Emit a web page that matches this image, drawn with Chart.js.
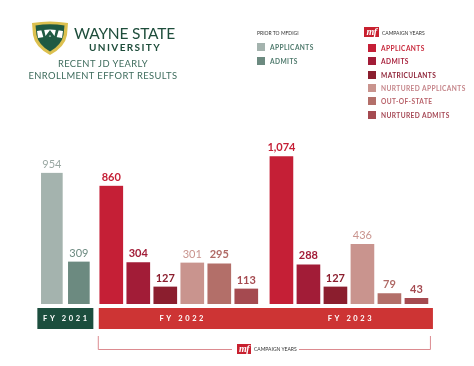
<!DOCTYPE html>
<html>
<head>
<meta charset="utf-8">
<script src="https://cdn.jsdelivr.net/npm/chart.js"></script>
<style>
  body { margin: 0; background: #fff; }
  #wrap { position: relative; width: 474px; height: 366px; overflow: hidden; font-family: Lato, sans-serif; }
  #chart { position: absolute; left: 0; top: 0; }
  .abs { position: absolute; white-space: nowrap; line-height: 1; }
  .sw { position: absolute; width: 8px; height: 8px; }
  .lg { position: absolute; font-size: 6.6px; font-weight: 700; letter-spacing: 0.4px; line-height: 8px; white-space: nowrap; }
  .mf { position: absolute; background: #c8202f; color: #fff; font: italic bold 10px "Liberation Serif", serif; line-height: 10px; text-align: center; letter-spacing: -0.5px; }
  .tiny { position: absolute; font-size: 5px; color: #333; letter-spacing: 0; white-space: nowrap; line-height: 5px; }
</style>
</head>
<body>
<div id="wrap">
  <canvas id="chart" width="474" height="366"></canvas>

  <svg class="abs" style="left:31px;top:21px" width="38" height="34" viewBox="0 0 38 34">
    <path d="M1,2 Q19,-1 37,2 L36,14 Q34,26 19,34 Q4,26 2,14 Z" fill="#dcc04f"/>
    <path d="M4.5,4.5 Q19,2 33.5,4.5 L32.5,14 Q30.5,24 19,30.5 Q7.5,24 5.5,14 Z" fill="#1f5a43"/>
    <path d="M6,10 Q19,7 32,10 L31,17 Q19,14 7,17 Z" fill="#fff"/>
    <path d="M10,8 L14,22 L19,14 L24,22 L28,8 L25,8 L23.5,15 L19,9 L14.5,15 L13,8 Z" fill="#1f5a43"/>
  </svg>
  <div class="abs" style="left:74px;top:26px;font-size:15.5px;color:#1e4d3b;letter-spacing:-0.2px">WAYNE STATE</div>
  <div class="abs" style="left:89px;top:42px;font-size:10px;font-weight:700;color:#1e4d3b;letter-spacing:1.4px">UNIVERSITY</div>
  <div class="abs" style="left:0;width:206px;text-align:center;top:59px;font-size:9.4px;color:#3d6b5c;letter-spacing:0.4px">RECENT JD YEARLY</div>
  <div class="abs" style="left:0;width:206px;text-align:center;top:71px;font-size:9.4px;color:#3d6b5c;letter-spacing:0.4px">ENROLLMENT EFFORT RESULTS</div>

  <div class="tiny" style="left:257px;top:31px">PRIOR TO MFDIGI</div>
  <div class="mf" style="left:364px;top:27px;width:15px;height:10px">mf</div>
  <div class="tiny" style="left:382px;top:31px">CAMPAIGN YEARS</div>
  <div id="legend"></div>

  <div class="mf" style="left:237px;top:344px;width:14px;height:10px">mf</div>
  <div class="tiny" style="left:254px;top:347px">CAMPAIGN YEARS</div>
</div>

<script>
'use strict';

// chart data
let years = ['FY 2021', 'FY 2022', 'FY 2023'];
let priorNames = ['APPLICANTS', 'ADMITS'];
let priorApplicants = [954];        // FY 2021
let priorAdmits = [309];
let campaignNames = ['APPLICANTS', 'ADMITS', 'MATRICULANTS', 'NURTURED APPLICANTS', 'OUT-OF-STATE', 'NURTURED ADMITS'];
let applicants = [860, 1074];       // FY 2022, FY 2023
let admits = [304, 288];
let matriculants = [127, 127];
let nurturedApplicants = [301, 436];
let outOfState = [295, 79];
let nurturedAdmits = [113, 43];

// colors
let priorColors = ['#a4b3ae', '#6c8a80'];
let priorText = ['#4f7a6d', '#4f7a6d'];
let campaignColors = ['#c51f36', '#a21c37', '#8b1e2e', '#c9948e', '#b36f69', '#a54a50'];
let campaignText = ['#c8283b', '#a8213c', '#8e2236', '#c5858a', '#b8626a', '#a54754'];
let labelColors = {
  prior: ['#9aa8a3', '#6c8a80'],
  campaign: ['#c51f36', '#a21c37', '#8b1e2e', '#c9948e', '#b06a66', '#a54a50']
};

// slots on the x axis: spacer slots keep the year groups apart
let slotYears = [years[0], null, years[1], null, null, years[2], null];

function toSlots(values, yearList) {
  return slotYears.map(y => {
    let i = yearList.indexOf(y);
    return (y !== null && i > -1) ? values[i] : null;
  });
}

let campaignSeries = [applicants, admits, matriculants, nurturedApplicants, outOfState, nurturedAdmits];
let datasets = [];
[priorApplicants, priorAdmits].forEach((vals, i) => {
  datasets.push({
    label: priorNames[i],
    data: toSlots(vals, [years[0]]),
    backgroundColor: priorColors[i],
    borderColor: '#fff',
    borderWidth: { left: 3, right: 3, top: 0, bottom: 0 },
    labelColor: labelColors.prior[i],
    labelWeight: '400'
  });
});
campaignSeries.forEach((vals, i) => {
  datasets.push({
    label: campaignNames[i],
    data: toSlots(vals, [years[1], years[2]]),
    backgroundColor: campaignColors[i],
    borderColor: '#fff',
    borderWidth: { left: 2, right: 2, top: 0, bottom: 0 },
    labelColor: labelColors.campaign[i],
    labelWeight: (i === 3) ? '400' : '700'
  });
});

// legend html
let legend = document.getElementById('legend');
priorNames.forEach((name, i) => {
  let top = 43 + i * 14;
  legend.innerHTML += `<div class="sw" style="left:257px;top:${top}px;background:${priorColors[i]}"></div>` +
    `<div class="lg" style="left:270px;top:${top}px;color:${priorText[i]}">${name}</div>`;
});
campaignNames.forEach((name, i) => {
  let top = 44 + i * 13.35;
  legend.innerHTML += `<div class="sw" style="left:368px;top:${top}px;background:${campaignColors[i]}"></div>` +
    `<div class="lg" style="left:381px;top:${top}px;color:${campaignText[i]}">${name}</div>`;
});

// numbers above bars
const valueLabels = {
  id: 'valueLabels',
  afterDatasetsDraw(chart) {
    const ctx = chart.ctx;
    chart.data.datasets.forEach((ds, i) => {
      chart.getDatasetMeta(i).data.forEach((bar, j) => {
        const v = ds.data[j];
        if (v === null || v === undefined) return;
        ctx.save();
        ctx.font = ds.labelWeight + ' 11px Lato';
        ctx.fillStyle = ds.labelColor;
        ctx.textAlign = 'center';
        ctx.textBaseline = 'bottom';
        ctx.fillText(v.toLocaleString('en-US'), bar.x, bar.y - 3);
        ctx.restore();
      });
    });
  }
};

// year bands and the campaign bracket below the bars
const yearBands = {
  id: 'yearBands',
  afterDraw(chart) {
    const ctx = chart.ctx;
    const x = chart.scales.x;
    const top = 308, h = 21, half = 81;
    const c0 = x.getPixelForValue(0), c2 = x.getPixelForValue(2), c5 = x.getPixelForValue(5);
    const redL = c2 - half + 1, redR = c5 + half + 3;
    ctx.save();
    ctx.fillStyle = '#1c4e3e';
    ctx.fillRect(c0 - 28, top, 56, h);
    ctx.fillStyle = '#cd3434';
    ctx.fillRect(redL, top, redR - redL, h);

    ctx.fillStyle = '#fff';
    ctx.font = 'bold 7.5px Lato';
    ctx.letterSpacing = '2.6px';
    ctx.textAlign = 'center';
    ctx.textBaseline = 'middle';
    ctx.fillText(years[0], c0 + 1, top + h / 2 + 0.5);
    ctx.fillText(years[1], c2 + 4, top + h / 2 + 0.5);
    ctx.fillText(years[2], c5 + 2, top + h / 2 + 0.5);

    ctx.strokeStyle = '#dc8b90';
    ctx.lineWidth = 1;
    ctx.beginPath();
    ctx.moveTo(redL - 0.5, 336);
    ctx.lineTo(redL - 0.5, 349.5);
    ctx.lineTo(232, 349.5);
    ctx.moveTo(299, 349.5);
    ctx.lineTo(redR - 2.5, 349.5);
    ctx.lineTo(redR - 2.5, 336);
    ctx.stroke();
    ctx.restore();
  }
};

let ctx = document.getElementById('chart').getContext('2d');
let myChart = new Chart(ctx, {
  type: 'bar',
  data: {
    labels: slotYears.map(y => y || ''),
    datasets: datasets
  },
  options: {
    responsive: false,
    animation: false,
    layout: { padding: { left: 37, right: 40, top: 141, bottom: 62 } },
    datasets: {
      bar: { barThickness: 27, skipNull: true, grouped: true }
    },
    plugins: {
      legend: { display: false },
      tooltip: { enabled: false }
    },
    scales: {
      x: { display: false },
      y: { display: false, min: 0, max: 1185 }
    }
  },
  plugins: [valueLabels, yearBands]
});
</script>
</body>
</html>
